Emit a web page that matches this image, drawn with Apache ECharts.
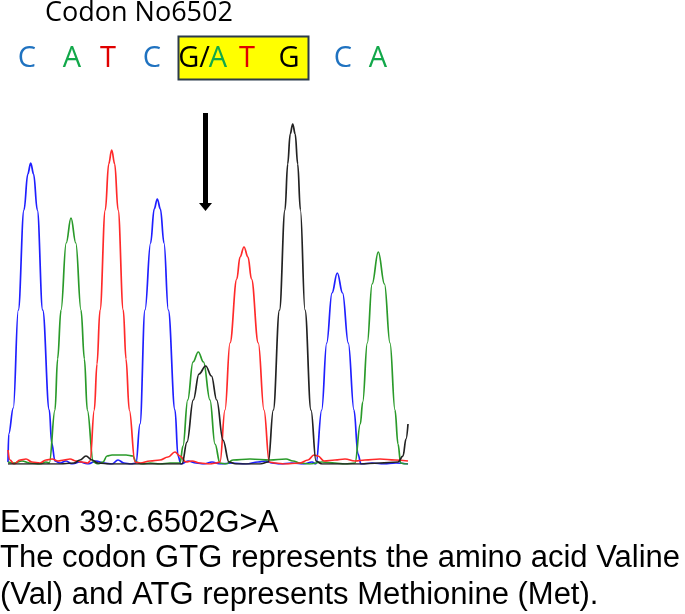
<!DOCTYPE html>
<html>
<head>
<meta charset="utf-8">
<script src="https://cdn.jsdelivr.net/npm/echarts@6/dist/echarts.min.js"></script>
<style>
html,body{margin:0;padding:0;background:#fff;}
#chart{width:685px;height:614px;}
</style>
</head>
<body>
<div id="chart"></div>
<script>
// ---- data (scan position, signal) ----
const traceC = [[8,2],[8.7,30],[13.3,56],[18.3,154],[24,254],[27.8,290],[30.7,301],[33.6,290],[37.3,254],[42.7,154],[49.3,54],[51.7,21],[55,3],[60,1],[66,3],[72,0],[80,2],[88,0],[96,3],[104,1],[112,0],[118,4],[124,1],[131,0],[136,1],[140,40],[145,154],[150.6,221],[154.2,255],[157.3,265],[160.4,255],[164,221],[168.3,154],[175,54],[178,8],[181,0],[188,3],[196,1],[204,0],[212,2],[220,0],[232,1],[246,0],[258,2],[266,3],[272,1],[280,0],[292,1],[304,0],[312,2],[316,0],[321.7,54],[326.7,121],[332,171],[337.3,191],[342.6,171],[348.3,121],[354,54],[358,10],[361,0],[372,1],[384,0],[396,1],[408,0]];
const traceA = [[8,2],[14,1],[22,3],[30,1],[40,0],[46,2],[49.3,1],[55,54],[57.6,105],[61,154],[66.2,221],[71,246],[75.8,221],[81,154],[84.4,105],[87.3,54],[93.3,2],[98,0],[103,2],[107,8],[112,9],[126,9],[133,8],[136,2],[142,0],[150,1],[160,0],[170,1],[180,1],[183,18],[187.7,64],[193,102],[198.3,112],[203.5,102],[210,64],[215,20],[220,1],[226,0],[233,4],[250,5],[270,4],[286,5],[293,3],[300,1],[310,0],[322,2],[335,1],[345,0],[355,1],[360.3,40],[362.7,62],[367.3,121],[372.1,180],[378.3,212],[384.5,180],[390,121],[395,54],[398,20],[400.7,1],[405,0],[408,0]];
const traceT = [[8,14],[10,4],[14,0],[20,4],[26,5],[32,2],[40,1],[46,4],[52,5],[58,3],[64,4],[70,5],[76,3],[82,2],[88,1],[90,3],[94.3,54],[97,100],[100,154],[105.3,254],[108.7,300],[111.7,314],[114.7,300],[118.1,254],[123.3,154],[126,105],[129.3,54],[135,2],[140,1],[150,3],[160,4],[168,7],[175,12],[180,8],[186,2],[192,3],[200,1],[210,0],[216,1],[220,2],[225,54],[230,121],[236.8,185],[240,207],[244,217],[248,207],[251.5,185],[258.3,121],[264,54],[269.3,2],[275,1],[285,0],[300,1],[308,4],[314,9],[318,8],[324,3],[335,4],[345,5],[355,3],[365,4],[380,5],[395,4],[408,3]];
const traceG = [[8,0],[60,0],[74,1],[80,4],[86,8],[92,4],[98,1],[110,0],[150,0],[176,0],[182,0],[187,22],[193.3,64],[199,90],[205.7,98],[211.5,88],[216.7,64],[223,24],[229,2],[236,0],[260,0],[268.3,2],[273.3,54],[279.5,154],[285,254],[287.7,300],[290.2,330],[292.7,340],[295.2,330],[297.7,300],[300.4,254],[305,154],[311,54],[316,3],[322,0],[360,0],[380,1],[398,2],[403,8],[406,25],[408,40]];

const bases = ['C','A','T','C','G/','A','T','G','C','A'];
const baseNames = ['C','A','T','G'];
const traceColors = ['#1f1fff','#2a9a2a','#ff2a2a','#222222'];
const headline = 'Codon No6502';
const captionLines = ['Exon 39:c.6502G>A','The codon GTG represents the amino acid Valine','(Val) and ATG represents Methionine (Met).'];

// ---- chart ----
const chart = echarts.init(document.getElementById('chart'), null, {renderer:'canvas'});
const letterColor = {C:'#1f72c0', A:'#12a84a', T:'#e00000', G:'#000000', 'G/':'#000000'};
const letterX = [27,72,108,152,194,218,247,289,343,378];
const traces = [traceC, traceA, traceT, traceG];

const graphics = [];
graphics.push({type:'rect', shape:{x:178.5,y:36.5,width:130,height:43}, style:{fill:'#ffff00', stroke:'#2b3a4a', lineWidth:2}, z:1});
graphics.push({type:'text', style:{x:45, y:13, text:headline, font:'27px "Open Sans"', fill:'#000', verticalAlign:'middle'}, z:2});
bases.forEach((b,i)=>{
  graphics.push({type:'text', style:{x:letterX[i], y:59, text:b, font:'29px "Open Sans"', fill:letterColor[b], align:'center', verticalAlign:'middle'}, z:2});
});
// arrow
graphics.push({type:'rect', shape:{x:203,y:113,width:5,height:92}, style:{fill:'#000'}, z:2});
graphics.push({type:'polygon', shape:{points:[[199,203],[212,203],[205.5,211]]}, style:{fill:'#000'}, z:2});
const capY = [523,558,595];
captionLines.forEach((t,i)=>{
  graphics.push({type:'text', style:{x:0, y:capY[i], text:t, font:'31px "Liberation Sans"', fill:'#000', verticalAlign:'middle'}, z:2});
});

chart.setOption({
  animation:false,
  backgroundColor:'#ffffff',
  grid:{left:8, right:277, top:100, bottom:150},
  xAxis:{type:'value', min:8, max:408, show:false},
  yAxis:{type:'value', min:0, max:364, show:false},
  graphic:graphics,
  series: traces.map((d,i)=>({
    name: baseNames[i], type:'line', data:d, showSymbol:false, silent:true,
    smooth:0.4, smoothMonotone:'x', clip:true,
    lineStyle:{color:traceColors[i], width:1.7}
  }))
});
</script>
</body>
</html>
